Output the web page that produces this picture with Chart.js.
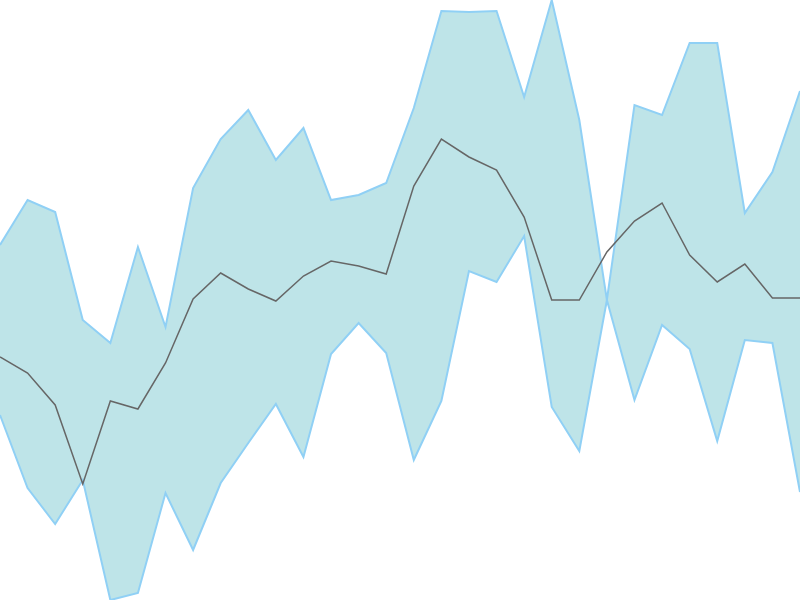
<!DOCTYPE html>
<html>
<head>
<meta charset="utf-8">
<script src="https://cdn.jsdelivr.net/npm/chart.js@4/dist/chart.umd.min.js"></script>
<style>
  html, body { margin: 0; padding: 0; background: #fff; }
  #wrap { width: 800px; height: 600px; }
</style>
</head>
<body>
<div id="wrap"><canvas id="bandChart"></canvas></div>
<script>
// 30 points, no visible axes
const labels = ['1','2','3','4','5','6','7','8','9','10','11','12','13','14','15',
                '16','17','18','19','20','21','22','23','24','25','26','27','28','29','30'];

const upperValues = [355, 400, 388, 280, 257, 353, 273, 412, 461, 490, 440, 472, 400, 405, 417,
                     492, 589, 588, 589, 503, 600, 480, 300, 495, 485, 557, 557, 387, 428, 509];

const middleValues = [243, 227, 195, 116, 199, 191, 237, 301, 327, 311, 299, 324, 339, 334, 326,
                      414, 461, 443, 430, 383, 300, 300, 348, 379, 397, 345, 318, 336, 302, 302];

const lowerValues = [185, 112, 76, 120, 0, 7, 107, 50, 117, 157, 196, 143, 246, 277, 247,
                     140, 199, 329, 318, 364, 193, 149, 300, 200, 275, 251, 159, 260, 257, 108];

const ctx = document.getElementById('bandChart').getContext('2d');
new Chart(ctx, {
    type: 'line',
    data: {
        labels: labels,
        datasets: [
            {
                label: 'Middle',
                data: middleValues,
                borderColor: '#666666',
                borderWidth: 1.5,
                pointRadius: 0,
                fill: false,
                tension: 0,
                order: -2
            },
            {
                label: 'Upper',
                data: upperValues,
                borderColor: 'rgb(144, 208, 245)',
                backgroundColor: 'rgb(190, 228, 232)',
                borderWidth: 2,
                pointRadius: 0,
                fill: '+1',
                tension: 0,
                order: 0
            },
            {
                label: 'Lower',
                data: lowerValues,
                borderColor: 'rgb(144, 208, 245)',
                borderWidth: 2,
                pointRadius: 0,
                fill: false,
                tension: 0,
                order: -1
            }
        ]
    },
    options: {
        responsive: true,
        maintainAspectRatio: false,
        animation: false,
        layout: { padding: 0 },
        plugins: {
            legend: { display: false },
            tooltip: { enabled: false }
        },
        scales: {
            x: { display: false, offset: false },
            y: { display: false, min: 0, max: 600 }
        }
    }
});
</script>
</body>
</html>
